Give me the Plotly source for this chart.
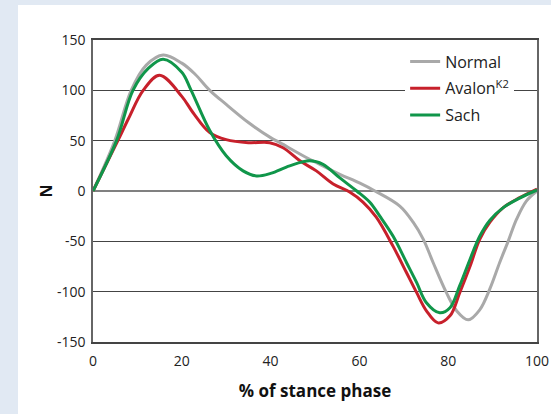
import plotly.graph_objects as go

# Normal
normal_x = [0, 4.9, 8.6, 12, 15.8, 20, 23, 26.3, 30, 35, 40, 42.1, 48.8, 55.6, 60, 63.5, 69.1, 72.1, 74.4, 76.6, 79.6, 81.9, 84.5, 87.1, 89.4, 91.6, 93.5, 95.4, 97.6, 100]
normal_y = [0, 50, 100, 125, 135, 127, 116, 100, 86, 68, 53, 48, 31.5, 16.6, 8, 0, -15, -31, -48, -71, -101, -119, -128, -118, -97, -71, -50, -28, -10, 0]

# Avalon K2
avalon_x = [0, 5.6, 8, 11.3, 15, 20, 22.5, 26.3, 30, 35, 39.8, 42.8, 46.6, 50.3, 54.1, 57.8, 60.8, 63.8, 67.6, 70.6, 72.9, 75.1, 77.7, 80.4, 82.6, 84.9, 87.1, 89.4, 92.4, 96.1, 100]
avalon_y = [0, 50, 72, 100, 115, 94, 78, 58, 51, 48, 48, 43, 30, 20, 7, -1, -11, -26, -55, -81, -101, -119, -131, -124, -101, -75, -48, -31, -16.5, -6.6, 2]

# Sach
sach_x = [0, 5.3, 9, 12.5, 15.8, 20, 22, 26.3, 30, 33.8, 36.8, 40, 44.3, 48.8, 51.8, 55.6, 59.4, 62.3, 64.6, 67.6, 70.6, 72.9, 75.1, 78.1, 80.4, 82.6, 84.9, 87.1, 89.4, 92.4, 96.1, 100]
sach_y = [0, 50, 100, 122, 131, 118, 101, 60, 35, 20, 15, 17.5, 25, 30, 26.5, 13, 0, -11, -25, -45, -71, -91, -111, -121, -116, -94, -68, -45, -29, -16.5, -7, 1]

x_ticks = [0, 20, 40, 60, 80, 100]
y_ticks = [-150, -100, -50, 0, 50, 100, 150]
y_tick_labels = ["-150", "-100", "-50", "0", "50", "100", "150"]

FONT = "Open Sans"

fig = go.Figure()
series = [
    ("Normal", normal_x, normal_y, "#a9a9a9"),
    ("Avalon<sup>K2</sup>", avalon_x, avalon_y, "#c7202b"),
    ("Sach", sach_x, sach_y, "#10964a"),
]
for i, (name, xs, ys, col) in enumerate(series):
    fig.add_trace(go.Scatter(
        x=xs, y=ys, name=name, mode="lines",
        line=dict(color=col, width=3, shape="spline", smoothing=1.0),
        legendgroup=f"g{i}",
    ))

fig.add_shape(type="rect", xref="paper", yref="paper",
              x0=(18 - 93) / 444, x1=1.2, y0=-0.5, y1=(342 - 5) / 302,
              fillcolor="white", line=dict(width=0), layer="below")

fig.update_layout(
    width=551, height=414,
    margin=dict(l=93, r=14, t=40, b=72),
    paper_bgcolor="#e1e9f3",
    plot_bgcolor="white",
    font=dict(family=FONT, size=14, color="#222"),
    showlegend=True,
    legend=dict(
        x=0.703, y=0.985, xanchor="left", yanchor="top",
        bgcolor="white", borderwidth=0,
        font=dict(family=FONT, size=16, color="#222"),
        tracegroupgap=3, itemwidth=30,
    ),
    xaxis=dict(
        range=[0, 100], tickvals=x_ticks, ticks="", showgrid=False,
        zeroline=False, showline=True, mirror=True, linecolor="#444", linewidth=1.5,
        automargin=False, ticklabelstandoff=5,
        title=dict(text="<b>% of stance phase</b>", font=dict(family=FONT, size=17, color="#111"), standoff=17),
        tickfont=dict(family=FONT, size=14, color="#222"),
    ),
    yaxis=dict(
        range=[-150, 150], tickvals=y_ticks, ticktext=y_tick_labels, ticks="", showgrid=True,
        gridcolor="#444", gridwidth=1,
        zeroline=True, zerolinecolor="#808080", zerolinewidth=1.5,
        showline=True, mirror=True, linecolor="#666", linewidth=1.5,
        automargin=False, ticklabelstandoff=3,
        title=dict(text="<b>N</b>", font=dict(family=FONT, size=16, color="#111"), standoff=0),
        tickfont=dict(family=FONT, size=14, color="#222"),
    ),
)

fig.write_html("out.html", config={"displayModeBar": False},
               post_script="document.body.style.margin='0';document.body.style.background='#e1e9f3';")
